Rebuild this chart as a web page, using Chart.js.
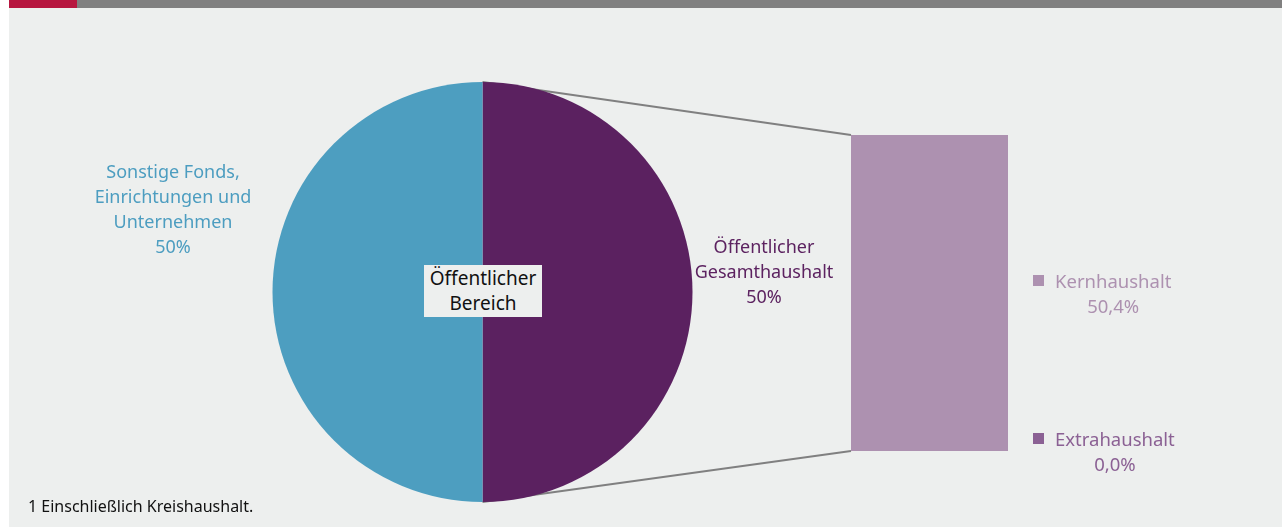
<!DOCTYPE html>
<html>
<head>
<meta charset="utf-8">
<script src="https://cdn.jsdelivr.net/npm/chart.js@4/dist/chart.umd.min.js"></script>
<style>
    html, body { margin: 0; padding: 0; background: #ffffff; }
    #page { position: relative; width: 1282px; height: 527px; overflow: hidden; font-family: 'Noto Sans', sans-serif; }
    #panel { position: absolute; left: 9px; top: 8px; right: 0; bottom: 0; background: #edefee; }
    #barRed { position: absolute; left: 9px; top: 0; width: 68px; height: 8px; background: #b7163f; }
    #barGray { position: absolute; left: 77px; top: 0; right: 0; height: 8px; background: #808080; }
    canvas { position: absolute; }
    .lbl { position: absolute; text-align: center; font-size: 18px; line-height: 25px; white-space: nowrap; transform: translateX(-50%); }
    .legend { position: absolute; font-size: 18.5px; line-height: 25px; white-space: nowrap; }
    .legend .sq { position: absolute; width: 11px; height: 11px; }
    #centerBox { position: absolute; left: 424px; top: 265px; width: 118px; height: 52px; background: #edefee; color: #111; font-size: 19px; line-height: 25px; text-align: center; padding-top: 1px; box-sizing: border-box; }
    #note { position: absolute; left: 28px; top: 495px; font-size: 16px; color: #111; }
</style>
</head>
<body>
<div id="page">
    <div id="panel"></div>
    <div id="barRed"></div>
    <div id="barGray"></div>
    <canvas id="links" width="1282" height="527" style="left:0;top:0;width:1282px;height:527px;"></canvas>
    <canvas id="pie" style="left:262px;top:72px;width:441px;height:440px;"></canvas>
    <canvas id="stack" style="left:851px;top:135px;width:157px;height:316px;"></canvas>
    <div id="centerBox">Öffentlicher<br>Bereich</div>
    <div class="lbl" id="lblBlue" style="left:173px;top:159px;color:#4c9dc0;"></div>
    <div class="lbl" id="lblPurple" style="left:764px;top:234px;color:#5c2260;"></div>
    <div class="legend" id="legKern" style="left:1033px;top:268px;color:#ad91b0;"></div>
    <div class="legend" id="legExtra" style="left:1033px;top:426px;color:#8b6194;"></div>
    <div id="note">1 Einschließlich Kreishaushalt.</div>
</div>
<script>
// pie: public sector split (clockwise from top)
const sectorLabels = ['Öffentlicher Gesamthaushalt', 'Sonstige Fonds, Einrichtungen und Unternehmen'];
const sectorShares = [50, 50];
const sectorColors = ['#5b2160', '#4d9ec0'];

// stacked bar: breakdown of Gesamthaushalt
const budgetLabels = ['Kernhaushalt', 'Extrahaushalt'];
const budgetShares = [50.4, 0.0];
const budgetColors = ['#ad91b0', '#8b6194'];

function pct(v) {
    return v.toFixed(v % 1 === 0 && v !== 0 ? 0 : 1).replace('.', ',') + '%';
}

document.getElementById('lblPurple').innerHTML = 'Öffentlicher<br>Gesamthaushalt<br>' + sectorShares[0] + '%';
document.getElementById('lblBlue').innerHTML = 'Sonstige Fonds,<br>Einrichtungen und<br>Unternehmen<br>' + sectorShares[1] + '%';

function fillLegend(id, i) {
    const el = document.getElementById(id);
    el.innerHTML = '<span class="sq" style="left:0;top:7px;background:' + budgetColors[i] + '"></span>' +
        '<div style="margin-left:22px">' + budgetLabels[i] + '</div>' +
        '<div style="margin-left:22px;text-align:center">' + pct(budgetShares[i]) + '</div>';
}
fillLegend('legKern', 0);
fillLegend('legExtra', 1);

const pieChart = new Chart(document.getElementById('pie'), {
    type: 'pie',
    data: {
        labels: sectorLabels,
        datasets: [{
            data: sectorShares,
            backgroundColor: sectorColors,
            borderWidth: 0
        }]
    },
    options: {
        responsive: false,
        animation: false,
        layout: { padding: 10 },
        plugins: { legend: { display: false }, tooltip: { enabled: false } }
    }
});

const barChart = new Chart(document.getElementById('stack'), {
    type: 'bar',
    data: {
        labels: [''],
        datasets: budgetLabels.map((name, i) => ({
            label: name,
            data: [budgetShares[i]],
            backgroundColor: budgetColors[i],
            borderWidth: 0,
            barPercentage: 1,
            categoryPercentage: 1
        }))
    },
    options: {
        responsive: false,
        animation: false,
        layout: { padding: 0 },
        plugins: { legend: { display: false }, tooltip: { enabled: false } },
        scales: {
            x: { display: false, stacked: true },
            y: {
                display: false,
                stacked: true,
                min: 0,
                max: budgetShares.reduce((a, b) => a + b, 0)
            }
        }
    }
});

// connector lines from the pie's split to the bar
function drawLinks() {
    const ctx = document.getElementById('links').getContext('2d');
    const arc = pieChart.getDatasetMeta(0).data[0];
    const pieBox = document.getElementById('pie');
    const barBox = document.getElementById('stack');
    const px = pieBox.offsetLeft + arc.x;
    const topY = pieBox.offsetTop + arc.y - arc.outerRadius;
    const botY = pieBox.offsetTop + arc.y + arc.outerRadius;

    const first = barChart.getDatasetMeta(0).data[0];
    const last = barChart.getDatasetMeta(budgetLabels.length - 1).data[0];
    const bx = barBox.offsetLeft + first.x - first.width / 2;
    const bTop = barBox.offsetTop + Math.min(first.y, last.y);
    const bBot = barBox.offsetTop + first.base;

    ctx.strokeStyle = '#808080';
    ctx.lineWidth = 2;
    ctx.beginPath();
    ctx.moveTo(px, topY);
    ctx.lineTo(bx, bTop);
    ctx.moveTo(px, botY);
    ctx.lineTo(bx, bBot);
    ctx.stroke();
}
drawLinks();
</script>
</body>
</html>
